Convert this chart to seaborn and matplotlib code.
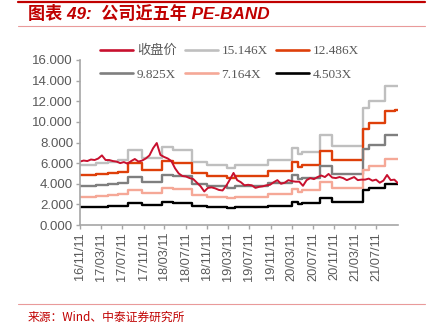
import matplotlib
matplotlib.use("Agg")
import matplotlib.pyplot as plt
from matplotlib.lines import Line2D
import numpy as np
import pandas as pd
import seaborn as sns

# ---- data -------------------------------------------------------------
# closing price, sampled every three weeks from 2016-11-11
price_start = "2016-11-11"
price_step_days = 21
close_price = [
    6.15, 6.25, 6.20, 6.35, 6.30, 6.45, 6.75, 6.30, 6.30, 6.20,
    6.15, 6.00, 6.10, 5.95, 6.20, 6.40, 6.15, 6.25, 6.45, 6.75,
    7.45, 7.95, 6.80, 6.60, 6.45, 6.20, 5.50, 5.00, 4.75, 4.70,
    4.55, 4.45, 4.10, 3.75, 3.25, 3.60, 3.65, 3.55, 3.40, 3.35,
    3.80, 4.40, 5.05, 4.35, 4.15, 3.85, 3.90, 3.85, 3.60, 3.70,
    3.75, 3.85, 3.90, 4.15, 4.35, 4.00, 4.10, 4.35, 4.25, 4.20,
    4.20, 3.80, 4.35, 4.55, 4.45, 4.65, 4.80, 4.65, 4.95, 4.60,
    4.55, 4.65, 4.55, 4.35, 4.50, 4.65, 4.35, 4.40, 4.40, 4.50,
    4.30, 4.40, 4.10, 4.30, 4.85, 4.35, 4.40, 4.05,
]

# per-share earnings used for the PE bands (changes at each revision)
eps_dates = [
    "2016-11-11", "2017-02-11", "2017-04-21", "2017-06-17", "2017-08-12",
    "2017-10-31", "2018-02-27", "2018-04-29", "2018-08-18", "2018-11-10",
    "2019-03-03", "2019-04-20", "2019-10-28", "2020-03-11", "2020-04-18",
    "2020-05-07", "2020-08-20", "2020-10-27", "2021-04-26", "2021-05-29",
    "2021-08-29", "2021-10-25",
]
eps_values = [
    0.385, 0.395, 0.405, 0.415, 0.478,
    0.428, 0.498, 0.481, 0.404, 0.382,
    0.363, 0.384, 0.417, 0.490, 0.452,
    0.467, 0.578, 0.506, 0.748, 0.792,
    0.887, 0.893,
]
end_date = "2021-11-12"

pe_multiples = [15.146, 12.486, 9.825, 7.164, 4.503]
band_labels = ["15.146X", "12.486X", "9.825X", "7.164X", "4.503X"]
price_label = "收盘价"

tick_labels = ["16/11/11", "17/03/11", "17/07/11", "17/11/11", "18/03/11",
               "18/07/11", "18/11/11", "19/03/11", "19/07/11", "19/11/11",
               "20/03/11", "20/07/11", "20/11/11", "21/03/11", "21/07/11"]

# ---- styling ----------------------------------------------------------
sns.set_style("ticks")
plt.rcParams["font.family"] = ["Liberation Sans", "Noto Sans CJK SC", "DejaVu Sans"]

colors = {
    price_label: "#C8102E",
    "15.146X": "#BFBFBF",
    "12.486X": "#DE3F0A",
    "9.825X": "#7F7F7F",
    "7.164X": "#F5A897",
    "4.503X": "#000000",
}
axis_grey = "#A6A6A6"
text_grey = "#595959"
brand_red = "#C00000"

# ---- frames -----------------------------------------------------------
price_df = pd.DataFrame({
    "date": pd.date_range(price_start, periods=len(close_price),
                          freq=f"{price_step_days}D"),
    "price": close_price,
})

step_dates = pd.to_datetime(eps_dates + [end_date])
step_eps = eps_values + [eps_values[-1]]
band_rows = []
for mult, lab in zip(pe_multiples, band_labels):
    for d, e in zip(step_dates, step_eps):
        band_rows.append({"date": d, "value": mult * e, "band": lab})
band_df = pd.DataFrame(band_rows)

# ---- figure -----------------------------------------------------------
fig = plt.figure(figsize=(4.32, 3.25), dpi=100)
ax = fig.add_axes([80 / 432, 1 - 225 / 325, 318 / 432, 165 / 325])

sns.lineplot(data=band_df, x="date", y="value", hue="band",
             hue_order=band_labels, palette=colors, drawstyle="steps-post",
             estimator=None, linewidth=1.7, ax=ax, legend=False)
sns.lineplot(data=price_df, x="date", y="price", color=colors[price_label],
             linewidth=1.4, ax=ax, legend=False)

ax.set_xlim(pd.Timestamp(price_start), pd.Timestamp(end_date))
ax.set_ylim(0, 16)
ax.set_yticks(np.arange(0, 16.1, 2))
ax.yaxis.set_major_formatter(matplotlib.ticker.FormatStrFormatter("%.3f"))

tick_pos = [pd.Timestamp(price_start) + pd.DateOffset(months=4 * k)
            for k in range(len(tick_labels))]
ax.set_xticks(tick_pos)
ax.set_xticklabels(tick_labels, rotation=90)
ax.set_xlabel("")
ax.set_ylabel("")

for side in ("top", "right"):
    ax.spines[side].set_visible(False)
for side in ("left", "bottom"):
    ax.spines[side].set_color(axis_grey)
    ax.spines[side].set_linewidth(1.2)
ax.tick_params(axis="both", colors=axis_grey, length=3, width=1.0,
               labelcolor=text_grey, labelsize=9.5, pad=2)
ax.tick_params(axis="x", labelsize=9.2)

# legend: two rows of three
handles = {lab: Line2D([], [], color=colors[lab], linewidth=1.9)
           for lab in [price_label] + band_labels}
order = [price_label, "9.825X", "15.146X", "7.164X", "12.486X", "4.503X"]
leg = fig.legend([handles[k] for k in order], order, ncol=3,
                 loc="upper left", bbox_to_anchor=(100 / 432, 1 - 45 / 325),
                 frameon=False, borderpad=0, borderaxespad=0,
                 handlelength=2.5, handletextpad=0.3, columnspacing=0.6,
                 labelspacing=0.85,
                 prop={"family": ["Liberation Serif", "Noto Sans CJK SC"],
                       "size": 9.5})
for t in leg.get_texts():
    t.set_color(text_grey)

# header and footer rules
fig.add_artist(Line2D([18 / 432, 425 / 432], [1 - 1.5 / 325] * 2,
                      color=brand_red, linewidth=1.6))
fig.add_artist(Line2D([18 / 432, 425 / 432], [1 - 26 / 325] * 2,
                      color="#E99A9A", linewidth=0.8))
fig.add_artist(Line2D([18 / 432, 425 / 432], [1 - 304 / 325] * 2,
                      color="#E99A9A", linewidth=0.8))

fig.text(28 / 432, 1 - 13.5 / 325, "图表 49:  公司近五年 PE-BAND",
         color=brand_red, fontsize=12.3, fontweight="bold", style="italic",
         family=["Liberation Sans", "Noto Sans CJK SC"], va="center", ha="left")
fig.text(28 / 432, 1 - 317 / 325, "来源：Wind、中泰证券研究所",
         color=brand_red, fontsize=8.5,
         family=["Noto Sans CJK SC", "DejaVu Sans"], va="center", ha="left")

fig.savefig("out.png", dpi=100)
